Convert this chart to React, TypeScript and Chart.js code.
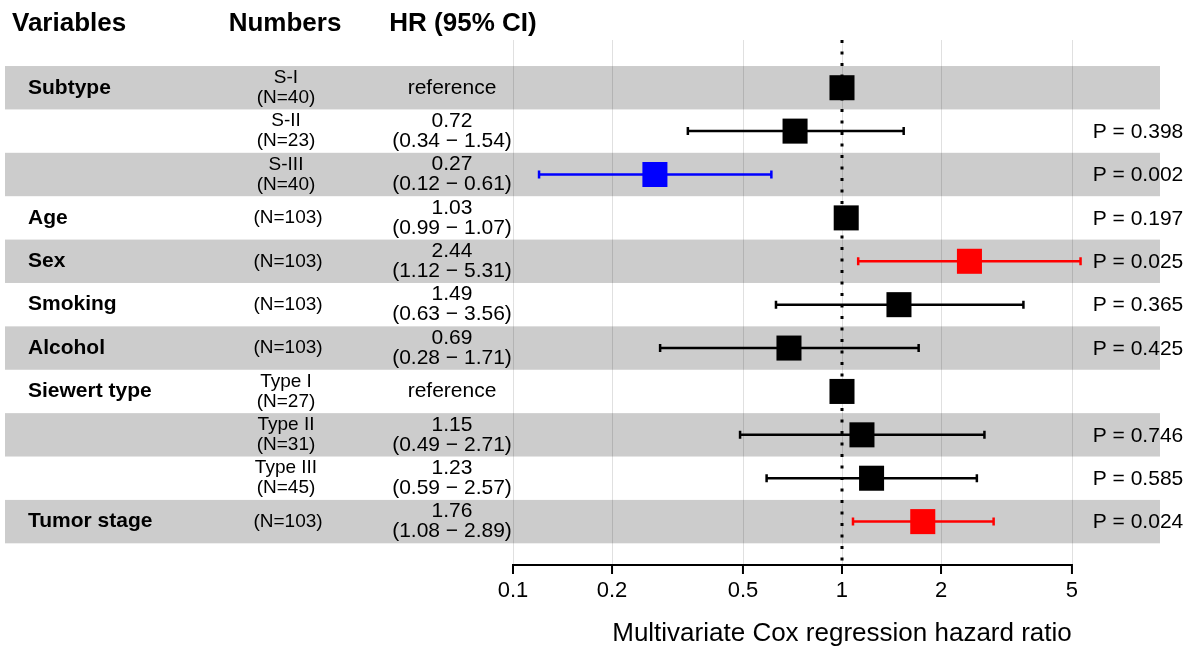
import React, { useEffect, useRef } from "react";
import { Chart, registerables } from "chart.js";

Chart.register(...registerables);

const FONT = '"Liberation Sans", Arial, Helvetica, sans-serif';

// ---- data ----
const variables = ["Subtype", "", "", "Age", "Sex", "Smoking", "Alcohol", "Siewert type", "", "", "Tumor stage"];
const groups = ["S-I", "S-II", "S-III", "", "", "", "", "Type I", "Type II", "Type III", ""];
const counts = [40, 23, 40, 103, 103, 103, 103, 27, 31, 45, 103];
const hazardRatios = [1, 0.72, 0.27, 1.03, 2.44, 1.49, 0.69, 1, 1.15, 1.23, 1.76];
const lowerCI: (number | null)[] = [null, 0.34, 0.12, 0.99, 1.12, 0.63, 0.28, null, 0.49, 0.59, 1.08];
const upperCI: (number | null)[] = [null, 1.54, 0.61, 1.07, 5.31, 3.56, 1.71, null, 2.71, 2.57, 2.89];
const pValues = ["", "0.398", "0.002", "0.197", "0.025", "0.365", "0.425", "", "0.746", "0.585", "0.024"];
const tickValues = [0.1, 0.2, 0.5, 1, 2, 5];
const headers = ["Variables", "Numbers", "HR (95% CI)"];
const axisTitle = "Multivariate Cox regression hazard ratio";

const rowColor = (i: number) => {
  const p = parseFloat(pValues[i]);
  if (!isNaN(p) && p < 0.05) return hazardRatios[i] < 1 ? "#0000ff" : "#ff0000";
  return "#000000";
};
const colors = hazardRatios.map((_, i) => rowColor(i));

export default function App() {
  const ref = useRef<HTMLCanvasElement>(null);

  useEffect(() => {
    document.body.style.margin = "0";
    const canvas = ref.current!;
    const n = hazardRatios.length;

    const forestPlugin = {
      id: "forest",
      beforeDatasetsDraw(chart: any) {
        const { ctx, chartArea: a, scales } = chart;
        const xs = scales.x;
        const ys = scales.y;
        ctx.save();
        // alternating bands
        ctx.fillStyle = "#cccccc";
        for (let i = 0; i < n; i += 2) {
          const t = ys.getPixelForValue(i - 0.5);
          const b = ys.getPixelForValue(i + 0.5);
          ctx.fillRect(5, t, a.right - 5, b - t);
        }
        // vertical grid lines
        ctx.strokeStyle = "rgba(0,0,0,0.12)";
        ctx.lineWidth = 1;
        for (const v of tickValues) {
          const x = Math.round(xs.getPixelForValue(v)) + 0.5;
          ctx.beginPath();
          ctx.moveTo(x, a.top);
          ctx.lineTo(x, a.bottom);
          ctx.stroke();
        }
        // dotted reference line at HR = 1
        const x1 = Math.round(xs.getPixelForValue(1));
        ctx.strokeStyle = "#000";
        ctx.lineWidth = 3;
        ctx.setLineDash([3, 8.5]);
        ctx.beginPath();
        ctx.moveTo(x1, a.top);
        ctx.lineTo(x1, a.bottom);
        ctx.stroke();
        ctx.setLineDash([]);
        // error bars
        for (let i = 0; i < n; i++) {
          const lo = lowerCI[i];
          const hi = upperCI[i];
          if (lo == null || hi == null) continue;
          const y = ys.getPixelForValue(i);
          const xl = xs.getPixelForValue(lo);
          const xh = xs.getPixelForValue(hi);
          ctx.strokeStyle = colors[i];
          ctx.lineWidth = 2.5;
          ctx.beginPath();
          ctx.moveTo(xl, y);
          ctx.lineTo(xh, y);
          ctx.moveTo(xl, y - 4);
          ctx.lineTo(xl, y + 4);
          ctx.moveTo(xh, y - 4);
          ctx.lineTo(xh, y + 4);
          ctx.stroke();
        }
        ctx.restore();
      },
      afterDraw(chart: any) {
        const { ctx, chartArea: a, scales } = chart;
        const xs = scales.x;
        const ys = scales.y;
        ctx.save();
        ctx.fillStyle = "#000";
        ctx.textBaseline = "middle";
        // headers
        ctx.font = `bold 26px ${FONT}`;
        ctx.textAlign = "left";
        ctx.fillText(headers[0], 12, 24);
        ctx.textAlign = "center";
        ctx.fillText(headers[1], 285, 24);
        ctx.fillText(headers[2], 463, 24);

        for (let i = 0; i < n; i++) {
          const y = ys.getPixelForValue(i);
          // variable labels
          if (variables[i]) {
            ctx.font = `bold 21px ${FONT}`;
            ctx.textAlign = "left";
            ctx.fillText(variables[i], 28, y);
          }
          // numbers column
          ctx.font = `19px ${FONT}`;
          ctx.textAlign = "center";
          const nText = `(N=${counts[i]})`;
          if (groups[i]) {
            ctx.fillText(groups[i], 286, y - 10);
            ctx.fillText(nText, 286, y + 10);
          } else {
            ctx.fillText(nText, 288, y);
          }
          // HR column
          ctx.font = `21px ${FONT}`;
          const lo = lowerCI[i];
          const hi = upperCI[i];
          if (lo == null || hi == null) {
            ctx.fillText("reference", 452, y);
          } else {
            ctx.fillText(hazardRatios[i].toFixed(2), 452, y - 10);
            ctx.fillText(`(${lo.toFixed(2)} \u2212 ${hi.toFixed(2)})`, 452, y + 10);
          }
          // p values
          if (pValues[i]) {
            ctx.font = `21px ${FONT}`;
            ctx.fillText(`P = ${pValues[i]}`, 1138, y + 1);
          }
        }

        // x axis
        const x0 = xs.getPixelForValue(tickValues[0]);
        const xN = xs.getPixelForValue(tickValues[tickValues.length - 1]);
        const yA = a.bottom;
        ctx.strokeStyle = "#000";
        ctx.lineWidth = 2;
        ctx.beginPath();
        ctx.moveTo(x0, yA);
        ctx.lineTo(xN, yA);
        for (const v of tickValues) {
          const x = xs.getPixelForValue(v);
          ctx.moveTo(x, yA - 1);
          ctx.lineTo(x, yA + 9);
        }
        ctx.stroke();
        ctx.font = `22px ${FONT}`;
        ctx.textAlign = "center";
        for (const v of tickValues) {
          ctx.fillText(String(v), xs.getPixelForValue(v), yA + 26);
        }
        ctx.font = `26px ${FONT}`;
        ctx.fillText(axisTitle, xs.getPixelForValue(1), yA + 69);
        ctx.restore();
      },
    };

    const chart = new Chart(canvas, {
      type: "scatter",
      data: {
        datasets: [
          {
            label: "HR",
            data: hazardRatios.map((v, i) => ({ x: v, y: i })),
            pointStyle: "rect",
            pointRadius: 17.7,
            pointHoverRadius: 17.7,
            pointBackgroundColor: colors,
            pointBorderColor: colors,
            pointBorderWidth: 0,
            showLine: false,
          },
        ],
      },
      options: {
        responsive: false,
        animation: false,
        events: [],
        layout: { padding: { left: 513, right: 34, top: 40, bottom: 84 } },
        plugins: { legend: { display: false }, tooltip: { enabled: false } },
        scales: {
          x: { type: "logarithmic", min: 0.1, max: 9.26, display: false },
          y: { type: "linear", min: -1.1, max: 11.0, reverse: true, display: false },
        },
      },
      plugins: [forestPlugin],
    });
    return () => chart.destroy();
  }, []);

  return (
    <div style={{ width: 1194, height: 649, background: "#fff" }}>
      <canvas ref={ref} width={1194} height={649} style={{ display: "block" }} />
    </div>
  );
}
